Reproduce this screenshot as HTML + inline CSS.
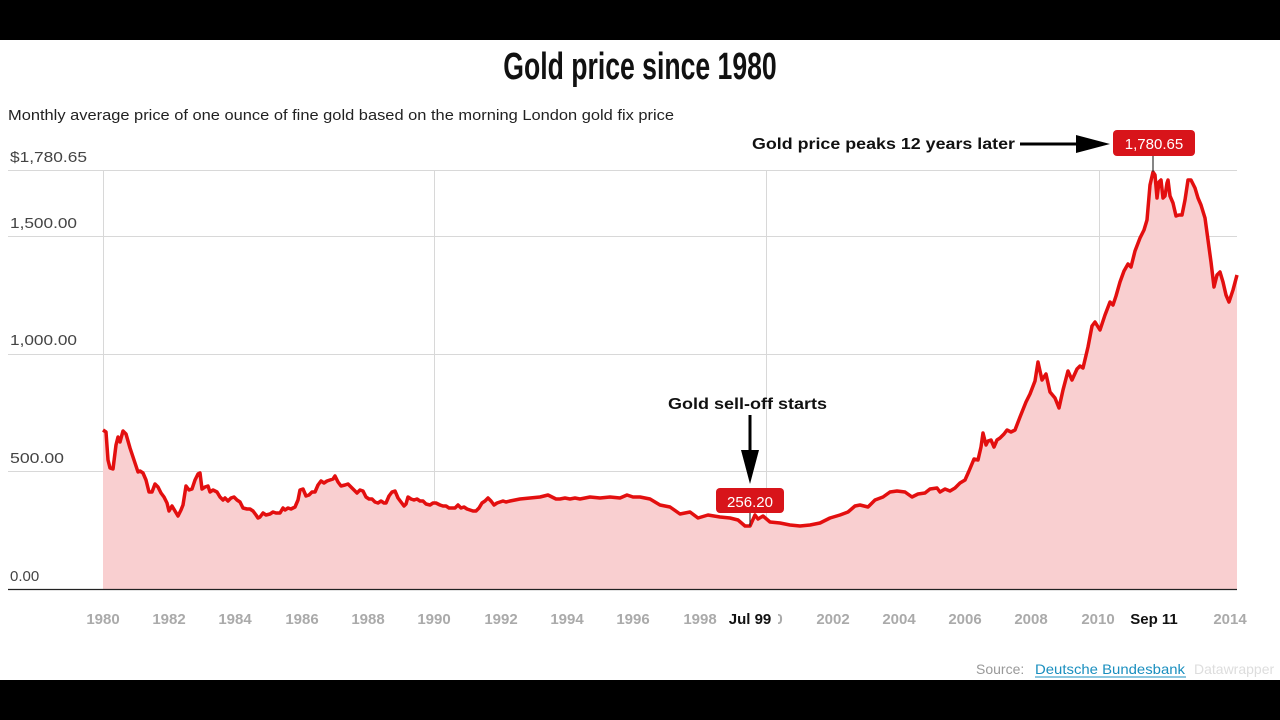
<!DOCTYPE html>
<html><head><meta charset="utf-8"><style>
body{margin:0;width:1280px;height:720px;overflow:hidden;background:#fff;font-family:"Liberation Sans",sans-serif;}
</style></head><body>
<svg width="1280" height="720" viewBox="0 0 1280 720" xmlns="http://www.w3.org/2000/svg" style="display:block">
<rect x="0" y="0" width="1280" height="40" fill="#000"/>
<rect x="0" y="680" width="1280" height="40" fill="#000"/>
<g transform="translate(640,0) scale(0.70,1)">
<text x="0" y="79" text-anchor="middle" font-weight="bold" font-size="38" fill="#111">Gold price since 1980</text>
</g>
<text x="8" y="120" font-size="15" fill="#222" textLength="666" lengthAdjust="spacingAndGlyphs">Monthly average price of one ounce of fine gold based on the morning London gold fix price</text>
<g stroke="#d8d8d8" stroke-width="1">
<line x1="8" y1="170.5" x2="1237" y2="170.5"/>
<line x1="8" y1="236.5" x2="1237" y2="236.5"/>
<line x1="8" y1="354.5" x2="1237" y2="354.5"/>
<line x1="8" y1="471.5" x2="1237" y2="471.5"/>
<line x1="103.5" y1="170" x2="103.5" y2="589"/>
<line x1="434.5" y1="170" x2="434.5" y2="589"/>
<line x1="766.5" y1="170" x2="766.5" y2="589"/>
<line x1="1099.5" y1="170" x2="1099.5" y2="589"/>
</g>
<g font-size="15" fill="#444">
<text x="10" y="162" textLength="77" lengthAdjust="spacingAndGlyphs">$1,780.65</text>
<text x="10" y="228" textLength="67" lengthAdjust="spacingAndGlyphs">1,500.00</text>
<text x="10" y="345" textLength="67" lengthAdjust="spacingAndGlyphs">1,000.00</text>
<text x="10" y="463" textLength="54" lengthAdjust="spacingAndGlyphs">500.00</text>
<text x="10" y="581">0.00</text>
</g>
<polygon fill="#f9cfd0" points="103,589 103,430 106,432 108,460 110,468 113,469 116,445 118,437 120,442 123,431 126,434 130,448 134,460 138,472 140,471 143,473 146,480 149,492 152,492 155,484 158,487 161,493 164,497 167,503 169,511 172,506 175,511 178,516 181,510 183,505 186,486 189,490 192,489 195,480 198,474 200,473 202,489 205,487 208,486 210,492 213,490 217,492 220,497 223,500 225,498 228,501 231,498 234,497 237,500 240,502 243,508 247,509 250,509 253,511 256,515 258,518 260,517 263,513 266,515 270,514 273,512 276,513 280,513 283,508 285,510 288,508 291,509 295,507 298,500 300,490 303,489 306,496 309,495 312,492 315,492 318,485 321,481 324,483 327,481 330,480 333,479 335,476 338,482 341,486 345,485 348,484 351,487 354,490 357,493 360,490 363,491 366,497 369,499 372,499 375,502 378,503 381,501 384,503 386,503 389,496 392,492 395,491 398,498 401,502 404,506 406,504 408,497 411,499 414,500 417,499 420,501 423,501 426,504 430,505 433,503 436,503 440,505 443,506 446,506 449,508 452,508 455,508 458,505 461,508 464,507 467,509 470,510 473,511 476,511 479,508 482,503 485,501 488,498 491,501 494,505 497,503 500,502 503,501 506,502 510,501 515,500 520,499 530,498 540,497 548,495 552,497 556,499 560,499 565,498 570,499 575,498 580,499 590,497 600,498 610,497 620,498 627,495 633,497 640,497 650,499 660,505 670,507 680,514 690,512 698,518 708,515 720,517 730,518 738,520 745,526 750,526 755,515 758,519 763,516 770,522 780,523 790,525 800,526 810,525 820,523 830,518 840,515 848,512 855,506 860,505 868,507 875,500 883,497 890,492 897,491 905,492 912,497 918,494 925,493 930,489 937,488 940,492 945,489 950,491 955,488 960,483 965,480 969,471 974,459 978,460 981,447 983,433 986,445 988,441 991,440 994,447 997,440 1000,438 1004,434 1007,430 1011,432 1015,430 1020,417 1026,402 1030,394 1035,381 1038,362 1042,380 1046,374 1050,392 1055,398 1059,408 1063,390 1068,371 1072,380 1077,369 1080,366 1083,368 1088,347 1092,326 1095,322 1100,330 1105,315 1110,302 1113,305 1116,296 1120,282 1124,271 1128,264 1131,267 1135,251 1140,238 1144,230 1147,220 1150,185 1153,172 1155,175 1157,198 1159,182 1161,180 1163,198 1165,196 1167,183 1168,180 1170,196 1173,203 1176,216 1179,215 1182,215 1185,200 1188,180 1191,180 1195,188 1198,198 1201,205 1205,218 1208,240 1211,262 1214,287 1217,275 1220,272 1223,282 1226,295 1229,302 1233,290 1237,275 1237,589"/>
<polyline fill="none" stroke="#e30f0f" stroke-width="3.5" stroke-linejoin="round" points="103,430 106,432 108,460 110,468 113,469 116,445 118,437 120,442 123,431 126,434 130,448 134,460 138,472 140,471 143,473 146,480 149,492 152,492 155,484 158,487 161,493 164,497 167,503 169,511 172,506 175,511 178,516 181,510 183,505 186,486 189,490 192,489 195,480 198,474 200,473 202,489 205,487 208,486 210,492 213,490 217,492 220,497 223,500 225,498 228,501 231,498 234,497 237,500 240,502 243,508 247,509 250,509 253,511 256,515 258,518 260,517 263,513 266,515 270,514 273,512 276,513 280,513 283,508 285,510 288,508 291,509 295,507 298,500 300,490 303,489 306,496 309,495 312,492 315,492 318,485 321,481 324,483 327,481 330,480 333,479 335,476 338,482 341,486 345,485 348,484 351,487 354,490 357,493 360,490 363,491 366,497 369,499 372,499 375,502 378,503 381,501 384,503 386,503 389,496 392,492 395,491 398,498 401,502 404,506 406,504 408,497 411,499 414,500 417,499 420,501 423,501 426,504 430,505 433,503 436,503 440,505 443,506 446,506 449,508 452,508 455,508 458,505 461,508 464,507 467,509 470,510 473,511 476,511 479,508 482,503 485,501 488,498 491,501 494,505 497,503 500,502 503,501 506,502 510,501 515,500 520,499 530,498 540,497 548,495 552,497 556,499 560,499 565,498 570,499 575,498 580,499 590,497 600,498 610,497 620,498 627,495 633,497 640,497 650,499 660,505 670,507 680,514 690,512 698,518 708,515 720,517 730,518 738,520 745,526 750,526 755,515 758,519 763,516 770,522 780,523 790,525 800,526 810,525 820,523 830,518 840,515 848,512 855,506 860,505 868,507 875,500 883,497 890,492 897,491 905,492 912,497 918,494 925,493 930,489 937,488 940,492 945,489 950,491 955,488 960,483 965,480 969,471 974,459 978,460 981,447 983,433 986,445 988,441 991,440 994,447 997,440 1000,438 1004,434 1007,430 1011,432 1015,430 1020,417 1026,402 1030,394 1035,381 1038,362 1042,380 1046,374 1050,392 1055,398 1059,408 1063,390 1068,371 1072,380 1077,369 1080,366 1083,368 1088,347 1092,326 1095,322 1100,330 1105,315 1110,302 1113,305 1116,296 1120,282 1124,271 1128,264 1131,267 1135,251 1140,238 1144,230 1147,220 1150,185 1153,172 1155,175 1157,198 1159,182 1161,180 1163,198 1165,196 1167,183 1168,180 1170,196 1173,203 1176,216 1179,215 1182,215 1185,200 1188,180 1191,180 1195,188 1198,198 1201,205 1205,218 1208,240 1211,262 1214,287 1217,275 1220,272 1223,282 1226,295 1229,302 1233,290 1237,275"/>
<line x1="8" y1="589.5" x2="1237" y2="589.5" stroke="#222" stroke-width="1.2"/>
<g font-size="15" font-weight="bold" fill="#aaa" text-anchor="middle">
<text x="103" y="624">1980</text><text x="169" y="624">1982</text><text x="235" y="624">1984</text><text x="302" y="624">1986</text><text x="368" y="624">1988</text><text x="434" y="624">1990</text><text x="501" y="624">1992</text><text x="567" y="624">1994</text><text x="633" y="624">1996</text><text x="700" y="624">1998</text><text x="766" y="624">2000</text><text x="833" y="624">2002</text><text x="899" y="624">2004</text><text x="965" y="624">2006</text><text x="1031" y="624">2008</text><text x="1098" y="624">2010</text><text x="1230" y="624">2014</text>
</g>
<rect x="724" y="606" width="54" height="24" fill="#fff"/>
<rect x="1126" y="606" width="56" height="24" fill="#fff"/>
<g font-size="15" font-weight="bold" fill="#111" text-anchor="middle">
<text x="750" y="624">Jul 99</text><text x="1154" y="624">Sep 11</text>
</g>
<line x1="1153" y1="155" x2="1153" y2="172" stroke="#333" stroke-width="1.2"/>
<rect x="1113" y="130" width="82" height="26" rx="4" fill="#d8141a"/>
<text x="1154" y="149" text-anchor="middle" font-size="15" fill="#fff">1,780.65</text>
<text x="752" y="149" font-size="16" font-weight="bold" fill="#111" textLength="263" lengthAdjust="spacingAndGlyphs">Gold price peaks 12 years later</text>
<line x1="1020" y1="144" x2="1078" y2="144" stroke="#000" stroke-width="3"/>
<polygon points="1076,135 1110,144 1076,153" fill="#000"/>
<line x1="750" y1="512" x2="750" y2="526" stroke="#333" stroke-width="1.2"/>
<rect x="716" y="488" width="68" height="25" rx="4" fill="#d8141a"/>
<text x="750" y="507" text-anchor="middle" font-size="15" fill="#fff">256.20</text>
<text x="668" y="409" font-size="16" font-weight="bold" fill="#111" textLength="159" lengthAdjust="spacingAndGlyphs">Gold sell-off starts</text>
<line x1="750" y1="415" x2="750" y2="455" stroke="#000" stroke-width="3"/>
<polygon points="741,450 759,450 750,484" fill="#000"/>
<text x="976" y="674" font-size="14" fill="#999">Source:</text>
<text x="1035" y="674" font-size="14" fill="#1a8fbf" textLength="150" lengthAdjust="spacingAndGlyphs">Deutsche Bundesbank</text>
<line x1="1035" y1="677" x2="1186" y2="677" stroke="#1a8fbf" stroke-width="1"/>
<text x="1194" y="674" font-size="14" fill="#ddd">Datawrapper</text>
</svg>
</body></html>
